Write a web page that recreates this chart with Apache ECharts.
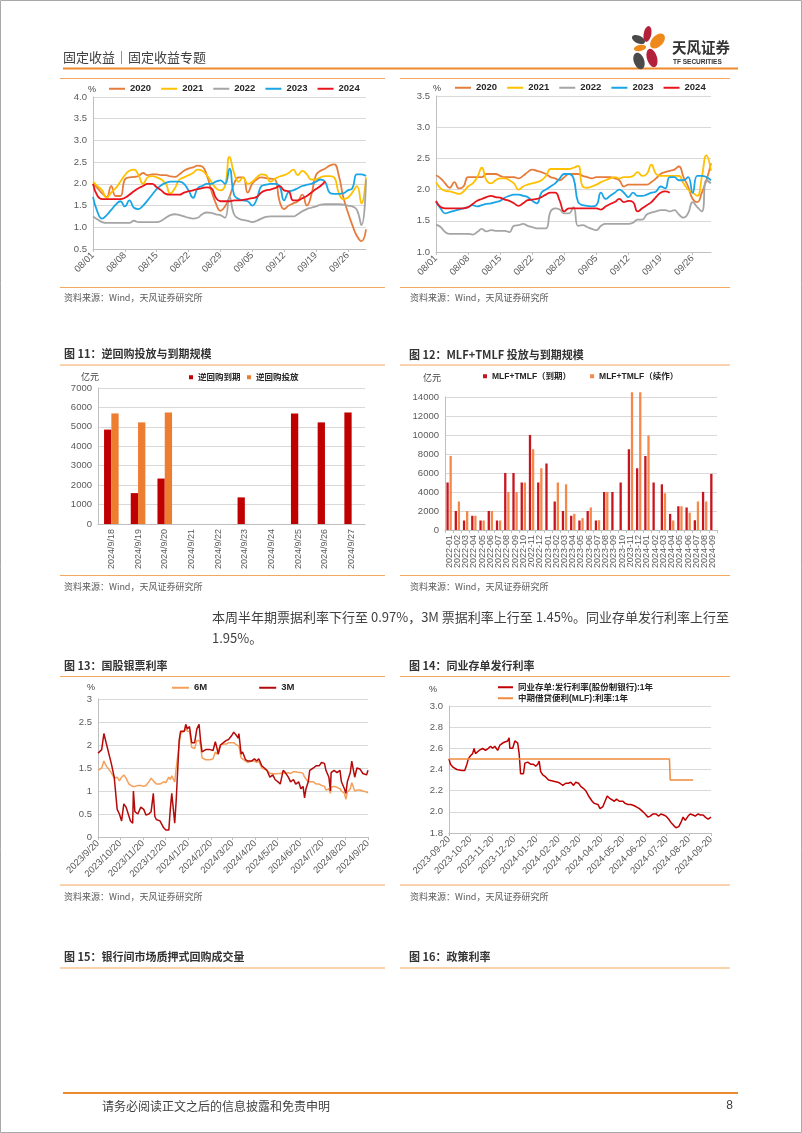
<!DOCTYPE html>
<html><head><meta charset="utf-8">
<script src="https://cdn.jsdelivr.net/npm/echarts@6/dist/echarts.min.js"></script>
<style>html,body{margin:0;padding:0;background:#fff}#c{width:802px;height:1133px}</style>
</head><body><div id="c"></div>
<script>
// ---------- DATA ----------
const days = ['08/01','08/02','08/03','08/04','08/05','08/06','08/07','08/08','08/09','08/10','08/11','08/12','08/13','08/14','08/15','08/16','08/17','08/18','08/19','08/20','08/21','08/22','08/23','08/24','08/25','08/26','08/27','08/28','08/29','08/30','08/31',
'09/01','09/02','09/03','09/04','09/05','09/06','09/07','09/08','09/09','09/10','09/11','09/12','09/13','09/14','09/15','09/16','09/17','09/18','09/19','09/20','09/21','09/22','09/23','09/24','09/25','09/26','09/27','09/28','09/29','09/30'];
const years = ['2020','2021','2022','2023','2024'];

const a2020 = [2.0,1.9,1.78,1.7,1.95,1.72,1.72,2.1,2.15,2.16, 2.18,2.25,2.2,2.22,2.22,2.2,2.2,2.17,2.16,2.22, 2.3,2.35,2.38,2.42,2.4,2.2,1.85,1.55,1.38,1.48, 1.7,2.0,2.15,2.15,1.8,2.0,2.1,2.15,2.13,2.12, 2.1,1.6,1.42,1.5,1.55,1.6,1.75,1.5,1.75,2.2, 2.3,2.35,2.42,2.45,2.2,1.7,1.35,1.05,0.8,0.68, 0.95];
const a2021 = [2.05,1.95,1.85,1.68,1.8,1.9,2.05,2.2,2.3,2.33, 2.2,2.0,2.15,2.18,2.15,2.1,2.0,1.78,1.9,2.1, 2.15,2.2,2.25,2.33,2.3,2.2,2.05,1.9,1.85,1.95, 2.62,2.25,2.05,2.15,2.0,2.05,2.15,2.22,2.2,2.05, 2.12,2.17,2.2,2.25,2.33,2.2,2.3,2.22,2.1,2.1, 2.15,2.18,2.18,2.15,1.8,1.65,1.68,1.8,1.95,1.55, 2.15];
const a2022 = [1.25,1.18,1.12,1.1,1.1,1.1,1.1,1.1,1.1,1.15, 1.12,1.12,1.12,1.12,1.12,1.15,1.22,1.28,1.3,1.28, 1.25,1.22,1.2,1.22,1.3,1.34,1.33,1.3,1.28,1.22, 1.7,1.3,1.2,1.17,1.15,1.12,1.15,1.2,1.24,1.25, 1.25,1.25,1.25,1.25,1.25,1.3,1.37,1.42,1.45,1.48, 1.52,1.53,1.53,1.53,1.53,1.52,1.5,1.48,1.4,1.05, 2.1];
const a2023 = [1.7,1.35,1.2,1.28,1.4,1.52,1.6,1.48,1.62,1.45, 1.42,1.5,1.62,1.75,1.88,1.97,2.02,2.05,2.05,2.05, 2.0,1.85,1.68,1.9,1.95,2.0,2.0,2.05,2.08,2.0, 2.35,1.75,1.65,1.62,1.6,1.5,1.65,1.95,1.98,2.0, 2.0,1.95,1.62,1.82,1.85,1.9,1.95,1.98,2.0,2.05, 2.1,2.05,1.8,1.77,1.77,1.78,1.85,1.9,2.22,2.22, 2.18];
const a2024 = [2.0,1.72,1.65,1.65,1.65,1.65,1.65,1.68,1.75,1.83, 1.9,1.95,2.0,2.0,1.92,1.85,1.77,1.75,1.75,1.75, 1.8,1.83,1.85,1.88,1.9,1.92,1.9,1.68,1.6,1.6, 1.6,1.62,1.62,1.63,1.65,1.67,1.7,1.8,1.85,1.87, 1.9,1.95,1.85,1.83,1.62,1.62,1.67,1.72,1.8,1.88, 1.95,2.05];

const b2020 = [2.23,2.18,2.1,2.03,2.12,2.02,2.05,2.2,2.2,2.2, 2.2,2.25,2.25,2.25,2.22,2.2,2.2,2.2,2.18,2.22, 2.28,2.32,2.3,2.28,2.25,2.2,2.18,2.15,2.2,2.25, 2.25,2.25,2.22,2.2,2.18,2.2,2.2,2.2,2.2,2.18, 2.15,2.05,2.08,2.08,2.08,2.08,2.08,2.12,2.18,2.25, 2.28,2.3,2.32,2.37,2.2,2.05,1.85,1.8,1.95,2.15, 2.42];
const b2021 = [2.12,2.02,1.98,1.97,1.95,1.93,1.97,2.05,2.1,2.2, 2.35,2.15,2.1,2.15,2.18,2.18,2.15,2.1,2.0,2.05, 2.08,2.1,2.12,2.15,2.22,2.33,2.33,2.33,2.33,2.33, 2.35,2.38,2.05,2.03,2.05,2.08,2.12,2.15,2.18,2.2, 2.18,2.2,2.2,2.22,2.28,2.22,2.25,2.4,2.25,2.22, 2.22,2.22,2.22,2.22,2.1,2.0,1.95,1.9,2.2,2.55, 2.3];
const b2022 = [1.44,1.4,1.32,1.29,1.29,1.29,1.29,1.29,1.28,1.32, 1.37,1.33,1.35,1.34,1.34,1.34,1.32,1.42,1.43,1.45, 1.42,1.4,1.38,1.38,1.38,1.65,1.7,1.68,1.62,1.62, 1.72,1.42,1.43,1.4,1.37,1.35,1.42,1.45,1.45,1.45, 1.45,1.45,1.45,1.47,1.52,1.52,1.6,1.63,1.65,1.67, 1.67,1.65,1.67,1.6,1.55,1.62,1.8,1.72,1.65,2.15, 2.1];
const b2023 = [1.8,1.7,1.62,1.64,1.66,1.68,1.7,1.72,1.75,1.73, 1.75,1.77,1.78,1.8,1.82,1.87,1.9,1.92,1.92,1.9, 1.88,1.82,1.78,1.95,2.0,2.05,2.1,2.18,2.25,2.25, 2.18,1.8,1.75,1.74,1.73,1.75,1.95,1.85,1.9,1.95, 2.0,1.95,1.88,1.95,1.9,1.9,1.92,1.95,1.97,2.05, 2.02,2.2,2.2,2.15,2.15,2.2,1.95,2.22,2.22,2.2, 2.15];
const b2024 = [1.82,1.72,1.7,1.7,1.7,1.7,1.7,1.72,1.77,1.82, 1.85,1.88,1.9,1.88,1.87,1.84,1.82,1.78,1.74,1.78, 1.83,1.84,1.85,1.88,1.92,1.95,1.95,1.82,1.65,1.7, 1.7,1.7,1.7,1.7,1.7,1.7,1.68,1.73,1.77,1.8, 1.85,1.8,1.82,1.8,1.65,1.7,1.75,1.8,1.88,1.95, 1.97,1.95];

const cats11 = ['2024/9/18','2024/9/19','2024/9/20','2024/9/21','2024/9/22','2024/9/23','2024/9/24','2024/9/25','2024/9/26','2024/9/27'];
const due11 = [4860,1590,2340,null,null,1370,null,5690,5230,5740];
const put11 = [5690,5230,5740,null,null,null,null,null,null,null];

const cats12 = ['2022-01','2022-02','2022-03','2022-04','2022-05','2022-06','2022-07','2022-08','2022-09','2022-10','2022-11','2022-12',
'2023-01','2023-02','2023-03','2023-04','2023-05','2023-06','2023-07','2023-08','2023-09','2023-10','2023-11','2023-12',
'2024-01','2024-02','2024-03','2024-04','2024-05','2024-06','2024-07','2024-08','2024-09'];
const due12 = [5000,2000,1000,1500,1000,2000,1000,6000,6000,5000,10000,5000, 7000,3000,2000,1500,1000,2000,1000,4000,4000,5000,8500,6500, 7790,5000,4810,1700,2500,2370,1030,4010,5910];
const roll12 = [7800,3000,2000,1500,1000,2000,1000,4000,4000,5000,8500,6500, null,5000,4810,1700,1250,2370,1030,4010,null,null,14500,14500, 9950,null,3870,1000,2500,1820,3000,3000,null];

const dates13 = ['2023-09-20','2023-09-25','2023-09-28',
'2023-10-01','2023-10-08','2023-10-12','2023-10-16','2023-10-19','2023-10-22','2023-10-25','2023-10-28',
'2023-11-01','2023-11-03','2023-11-06','2023-11-07','2023-11-09','2023-11-13','2023-11-17','2023-11-21','2023-11-24','2023-11-28',
'2023-12-01','2023-12-04','2023-12-06','2023-12-08','2023-12-13','2023-12-18','2023-12-21','2023-12-25','2023-12-27','2023-12-29',
'2024-01-02','2024-01-04','2024-01-08','2024-01-10','2024-01-15','2024-01-17','2024-01-19','2024-01-22','2024-01-25','2024-01-29',
'2024-02-01','2024-02-04','2024-02-06','2024-02-08','2024-02-13','2024-02-19','2024-02-23','2024-02-26','2024-02-28',
'2024-03-01','2024-03-04','2024-03-08','2024-03-12','2024-03-15','2024-03-19','2024-03-22','2024-03-26','2024-03-28','2024-03-29',
'2024-04-01','2024-04-03','2024-04-07','2024-04-10','2024-04-15','2024-04-19','2024-04-22','2024-04-25','2024-04-29',
'2024-05-06','2024-05-10','2024-05-14','2024-05-17','2024-05-21','2024-05-24','2024-05-28','2024-05-31',
'2024-06-04','2024-06-07','2024-06-11','2024-06-14','2024-06-18','2024-06-21','2024-06-24','2024-06-26','2024-06-28',
'2024-07-01','2024-07-03','2024-07-08','2024-07-12','2024-07-16','2024-07-19','2024-07-23','2024-07-25','2024-07-29','2024-07-31',
'2024-08-01','2024-08-05','2024-08-09','2024-08-13','2024-08-15','2024-08-19','2024-08-21','2024-08-23','2024-08-27','2024-08-29',
'2024-09-02','2024-09-05','2024-09-09','2024-09-11','2024-09-13','2024-09-18','2024-09-20'];
const m3 = [1.82,1.9,2.25,
2.05,1.6,1.3,0.6,0.5,0.35,0.72,0.65,
0.45,0.35,0.3,1.0,0.55,0.5,0.65,0.6,0.48,0.5,
0.55,0.95,0.45,0.38,0.35,0.2,0.15,0.15,0.6,0.95,
0.3,0.8,2.1,2.3,2.3,2.45,2.35,2.4,2.05,2.05,
2.35,2.45,2.1,1.85,1.9,1.9,1.88,2.07,1.95,
1.8,2.0,2.05,2.1,2.12,2.2,2.28,2.2,2.15,2.25,
1.8,1.85,1.68,1.65,1.65,1.7,1.65,1.7,1.55,
1.45,1.3,1.35,1.25,1.2,1.15,1.45,1.4,
1.3,1.2,1.25,1.15,1.2,1.05,1.1,0.85,1.05,
1.2,1.45,1.5,1.55,1.55,1.62,1.6,1.45,1.3,1.0,
1.4,1.45,1.4,1.45,1.2,1.05,0.95,1.2,1.4,1.65,
1.3,1.5,1.48,1.5,1.38,1.35,1.45];
const m6 = [1.45,1.5,1.65,
1.55,1.4,1.28,1.3,1.22,1.3,1.35,1.28,
1.15,1.12,1.1,1.1,1.1,1.12,1.12,1.1,1.12,1.2,
1.28,1.22,1.18,1.15,1.15,1.2,1.18,1.3,1.25,1.33,
1.2,1.5,2.0,2.25,2.3,2.35,2.3,2.3,1.95,1.92,
2.1,2.1,2.0,1.72,1.68,1.68,1.7,1.85,1.8,
1.78,2.0,2.02,2.02,2.05,2.05,2.05,2.0,1.98,1.98,
1.72,1.7,1.65,1.62,1.65,1.65,1.62,1.65,1.5,
1.45,1.38,1.38,1.37,1.38,1.38,1.4,1.38,
1.4,1.38,1.42,1.42,1.4,1.4,1.38,1.3,1.3,
1.2,1.18,1.2,1.15,1.15,1.12,1.1,1.02,1.05,0.95,
1.08,1.1,1.08,1.05,1.0,0.95,0.82,0.98,1.05,1.18,
1.0,1.02,1.02,1.0,1.0,0.98,0.96];
const tickDates = ['2023-09-20','2023-10-20','2023-11-20','2023-12-20','2024-01-20','2024-02-20','2024-03-20','2024-04-20','2024-05-20','2024-06-20','2024-07-20','2024-08-20','2024-09-20'];

const dates14 = ['2023-09-20','2023-09-22','2023-09-26',
'2023-10-01','2023-10-08','2023-10-12','2023-10-15','2023-10-17','2023-10-20','2023-10-23','2023-10-25','2023-10-27',
'2023-11-01','2023-11-06','2023-11-10','2023-11-14','2023-11-17','2023-11-20','2023-11-23','2023-11-27','2023-11-30',
'2023-12-04','2023-12-07','2023-12-11','2023-12-13','2023-12-14','2023-12-18','2023-12-21','2023-12-25','2023-12-27','2023-12-29',
'2024-01-02','2024-01-04','2024-01-08','2024-01-12','2024-01-16','2024-01-19','2024-01-22','2024-01-24','2024-01-26','2024-01-29',
'2024-02-02','2024-02-06','2024-02-19','2024-02-22','2024-02-26',
'2024-03-01','2024-03-05','2024-03-08','2024-03-12','2024-03-15','2024-03-19','2024-03-22','2024-03-26','2024-03-29',
'2024-04-02','2024-04-07','2024-04-10','2024-04-15','2024-04-18','2024-04-22','2024-04-25','2024-04-28',
'2024-05-01','2024-05-08','2024-05-11','2024-05-15','2024-05-20','2024-05-23','2024-05-27','2024-05-31',
'2024-06-04','2024-06-07','2024-06-12','2024-06-17','2024-06-20','2024-06-24','2024-06-27',
'2024-07-01','2024-07-05','2024-07-09','2024-07-12','2024-07-16','2024-07-19','2024-07-23','2024-07-26','2024-07-30',
'2024-08-02','2024-08-06','2024-08-09','2024-08-12','2024-08-15','2024-08-19','2024-08-22','2024-08-26','2024-08-29',
'2024-09-02','2024-09-05','2024-09-09','2024-09-12','2024-09-16','2024-09-20'];
const ncd = [2.5,2.45,2.42,
2.4,2.39,2.39,2.45,2.5,2.53,2.55,2.6,2.55,
2.58,2.6,2.58,2.6,2.62,2.6,2.62,2.58,2.63,
2.65,2.66,2.67,2.7,2.6,2.6,2.67,2.65,2.55,2.36,
2.36,2.46,2.47,2.45,2.45,2.43,2.45,2.48,2.38,2.35,
2.33,2.3,2.28,2.27,2.25,
2.27,2.27,2.28,2.25,2.28,2.27,2.24,2.22,2.2,
2.15,2.1,2.08,2.07,2.03,2.05,2.1,2.15,
2.13,2.1,2.12,2.1,2.1,2.08,2.07,2.07,
2.06,2.05,2.03,2.0,1.98,1.95,1.96,
1.98,1.98,1.96,1.98,1.97,1.96,1.93,1.9,1.87,
1.85,1.86,1.9,1.95,1.92,1.96,1.98,1.97,1.96,
1.98,1.97,1.97,1.95,1.93,1.95];
const mlfDates = ['2023-09-20','2024-07-24','2024-07-25','2024-08-26'];
const mlf = [2.5,2.5,2.3,2.3];

// ---------- HELPERS ----------
const FF = "'Liberation Sans','Noto Sans CJK SC',sans-serif";
const CJK = "'Noto Sans CJK SC','Liberation Sans',sans-serif";
const AX = '#595959', GRIDC = '#D9D9D9', LINEC = '#BFBFBF';
const ORANGE = '#EE8A2C', THIN = '#F3A85E';
const yc = ['#E67C3C','#FFC000','#A5A5A5','#1AA5E6','#E8141B'];

const DAY = 86400000;
const START = Date.parse('2023-09-20');
const dayNo = s => Math.round((Date.parse(s) - START) / DAY);   // day offset used by a value axis
function dateOf(v){ return new Date(START + Math.round(v) * DAY); }
function fmtSlash(v){const d=dateOf(v);return d.getUTCFullYear()+'/'+(d.getUTCMonth()+1)+'/'+d.getUTCDate();}
function fmtDash(v){const d=dateOf(v);const m=d.getUTCMonth()+1, dd=d.getUTCDate();return d.getUTCFullYear()+'-'+(m<10?'0':'')+m+'-'+(dd<10?'0':'')+dd;}
function zipD(a,b){return a.map((d,i)=>[dayNo(d),b[i]]);}
const tickNos = tickDates.map(dayNo);
const END = dayNo('2024-09-20');

function yAx(gi,min,max,interval,fmt){
  return {type:'value',gridIndex:gi,min,max,interval,
    axisLine:{show:true,lineStyle:{color:LINEC}},axisTick:{show:false},
    splitLine:{show:true,lineStyle:{color:GRIDC,width:1}},
    axisLabel:{fontSize:9.5,color:AX,margin:6,formatter:fmt}};
}
function lineS(name,data,xi,color,smooth,w){
  return {type:'line',name,data,xAxisIndex:xi,yAxisIndex:xi,showSymbol:false,symbol:'none',smooth:smooth,
    lineStyle:{color,width:w||1.8},itemStyle:{color}};
}
const legText = {fontSize:9.5,fontWeight:'bold',color:'#262626',fontFamily:FF};

function T(x,y,text,size,o){o=o||{};return {type:'text',x,y,silent:true,style:{text,fontSize:size,fontFamily:o.ff||CJK,fontWeight:o.fw||'normal',fill:o.c||'#333',
  textAlign:o.a||'left',align:o.a||'left',textVerticalAlign:'middle',verticalAlign:'middle'}};}
function H(x1,x2,y,c,w){return {type:'line',silent:true,shape:{x1,y1:y,x2,y2:y},style:{stroke:c,lineWidth:w}};}
function P(cx,cy,rx,ry,rot,c){return {type:'ellipse',silent:true,x:cx,y:cy,rotation:rot,shape:{cx:0,cy:0,rx,ry},style:{fill:c}};}

const SRC = '资料来源：Wind，天风证券研究所';
const graphics = [
  {type:'rect',silent:true,shape:{x:0.5,y:0.5,width:801,height:1132},style:{fill:null,stroke:'#A8A8A8',lineWidth:1}},
  T(63,57,'固定收益｜固定收益专题',13,{c:'#404040'}),
  H(63,738,68.5,ORANGE,2),
  // logo petals
  P(647.5,34,3.8,8,-0.2,'#B3203C'),
  P(657.5,41,5.6,9,-0.75,'#EE8A1B'),
  P(638.5,39.5,7,3.8,-0.45,'#4A4A4A'),
  P(640,48,6.2,3,0.2,'#EE8A1B'),
  P(639,61,5.2,8.5,0.35,'#4A4A4A'),
  P(652,58,5,9.5,0.3,'#B3203C'),
  T(672,47,'天风证券',14.5,{fw:'bold',c:'#333'}),
  T(673,62,'TF SECURITIES',6.5,{fw:'bold',c:'#333',ff:FF}),
  H(60,385,78.5,THIN,1.2), H(400,730,78.5,THIN,1.2),
  T(88,90,'%',9,{ff:FF,c:'#404040'}), T(433,89,'%',9,{ff:FF,c:'#404040'}),
  H(60,385,287.5,THIN,1.2), H(400,730,287.5,THIN,1.2),
  T(64,298,SRC,9,{c:'#595959'}), T(410,298,SRC,9,{c:'#595959'}),
  T(64,354,'图 11：逆回购投放与到期规模',11,{fw:'bold',c:'#333'}),
  T(409,355,'图 12：MLF+TMLF 投放与到期规模',11,{fw:'bold',c:'#333'}),
  H(60,385,365,THIN,1.2), H(400,730,365,THIN,1.2),
  T(81,377,'亿元',9,{c:'#404040'}), T(423,378,'亿元',9,{c:'#404040'}),
  H(60,385,575.5,THIN,1.2), H(400,730,575.5,THIN,1.2),
  T(64,587,SRC,9,{c:'#595959'}), T(410,587,SRC,9,{c:'#595959'}),
  T(212,617,'本周半年期票据利率下行至 0.97%，3M 票据利率上行至 1.45%。同业存单发行利率上行至',13,{c:'#404040'}),
  T(212,638,'1.95%。',13,{c:'#404040'}),
  T(64,666,'图 13：国股银票利率',11,{fw:'bold',c:'#333'}),
  T(409,666,'图 14：同业存单发行利率',11,{fw:'bold',c:'#333'}),
  H(60,385,676.5,THIN,1.2), H(400,730,676.5,THIN,1.2),
  T(87,688,'%',9,{ff:FF,c:'#404040'}), T(429,690,'%',9,{ff:FF,c:'#404040'}),
  H(60,385,885,THIN,1.2), H(400,730,885,THIN,1.2),
  T(64,897,SRC,9,{c:'#595959'}), T(410,897,SRC,9,{c:'#595959'}),
  T(64,957,'图 15：银行间市场质押式回购成交量',11,{fw:'bold',c:'#333'}),
  T(409,957,'图 16：政策利率',11,{fw:'bold',c:'#333'}),
  H(60,385,968,THIN,1.2), H(400,730,968,THIN,1.2),
  H(63,738,1093,ORANGE,2),
  T(102,1106,'请务必阅读正文之后的信息披露和免责申明',12,{c:'#404040'}),
  T(733,1106,'8',12,{ff:FF,c:'#404040',a:'right'})
];

// ---------- OPTION ----------
const topX = gi => ({type:'category',gridIndex:gi,data:days,boundaryGap:false,
  axisLine:{lineStyle:{color:LINEC}},axisTick:{interval:6,length:3,lineStyle:{color:LINEC}},
  axisLabel:{interval:6,rotate:45,fontSize:9.5,color:AX,margin:5}});
const dateX = (gi,fmt) => ({type:'value',gridIndex:gi,min:0,max:END,splitLine:{show:false},
  axisLine:{show:true,lineStyle:{color:LINEC}},
  axisTick:{show:true,customValues:tickNos,length:3,lineStyle:{color:LINEC}},
  axisLabel:{customValues:tickNos,formatter:fmt,rotate:45,fontSize:9.5,color:AX,margin:5,showMinLabel:true,showMaxLabel:true}});
const plain = v => String(v);

const series = [];
[a2020,a2021,a2022,a2023,a2024].forEach((d,i)=>series.push(lineS(years[i],d,0,yc[i],true)));
[b2020,b2021,b2022,b2023,b2024].forEach((d,i)=>series.push(lineS(years[i],d,1,yc[i],true)));
series.push({type:'bar',name:'逆回购到期',data:due11,xAxisIndex:2,yAxisIndex:2,barWidth:7.3,barGap:'0%',itemStyle:{color:'#C00000'}});
series.push({type:'bar',name:'逆回购投放',data:put11,xAxisIndex:2,yAxisIndex:2,barWidth:7.3,barGap:'0%',itemStyle:{color:'#ED7D31'}});
series.push({type:'bar',name:'MLF+TMLF（到期）',data:due12,xAxisIndex:3,yAxisIndex:3,barWidth:2.3,barGap:'35%',clip:false,itemStyle:{color:'#C8141E'}});
series.push({type:'bar',name:'MLF+TMLF（续作）',data:roll12,xAxisIndex:3,yAxisIndex:3,barWidth:2.3,barGap:'35%',clip:false,itemStyle:{color:'#F4894B'}});
series.push(lineS('6M',zipD(dates13,m6),4,'#F5A05A',false,1.5));
series.push(lineS('3M',zipD(dates13,m3),4,'#B40A0A',false,1.5));
series.push(lineS('同业存单:发行利率(股份制银行):1年',zipD(dates14,ncd),5,'#C00000',false,1.5));
series.push(lineS('中期借贷便利(MLF):利率:1年',zipD(mlfDates,mlf),5,'#F08A3C',false,1.5));

const option = {
  animation:false,
  backgroundColor:'#fff',
  textStyle:{fontFamily:FF},
  grid:[
    {left:93,top:97,width:273,height:152},
    {left:436,top:96,width:275,height:156},
    {left:98,top:388,width:267,height:136},
    {left:445,top:397,width:272,height:133},
    {left:98,top:699,width:270,height:138},
    {left:449,top:706,width:262,height:127}
  ],
  legend:[
    {data:years,left:109,top:84,icon:'rect',itemWidth:16,itemHeight:2,itemGap:10,textStyle:legText,padding:0},
    {data:years,left:455,top:83,icon:'rect',itemWidth:16,itemHeight:2,itemGap:10,textStyle:legText,padding:0},
    {data:['逆回购到期','逆回购投放'],left:189,top:373,icon:'rect',itemWidth:4,itemHeight:4,itemGap:6.5,textStyle:Object.assign({},legText,{fontSize:8.5}),padding:0},
    {data:['MLF+TMLF（到期）','MLF+TMLF（续作）'],left:483,top:372,icon:'rect',itemWidth:4,itemHeight:4,itemGap:19,textStyle:Object.assign({},legText,{fontSize:8.5}),padding:0},
    {data:['6M','3M'],left:172,top:683,icon:'rect',itemWidth:17,itemHeight:2,itemGap:52,textStyle:legText,padding:0},
    {data:['同业存单:发行利率(股份制银行):1年'],left:498,top:683,icon:'rect',itemWidth:15,itemHeight:2,textStyle:Object.assign({},legText,{fontSize:8.5}),padding:0},
    {data:['中期借贷便利(MLF):利率:1年'],left:498,top:694,icon:'rect',itemWidth:15,itemHeight:2,textStyle:Object.assign({},legText,{fontSize:8.5}),padding:0}
  ],
  xAxis:[
    topX(0), topX(1),
    {type:'category',gridIndex:2,data:cats11,axisLine:{lineStyle:{color:LINEC}},axisTick:{show:false},
      axisLabel:{interval:0,rotate:90,fontSize:9,color:AX,margin:5}},
    {type:'category',gridIndex:3,data:cats12,axisLine:{lineStyle:{color:LINEC}},axisTick:{show:true,length:3,lineStyle:{color:LINEC}},
      axisLabel:{interval:0,rotate:90,fontSize:9,color:AX,margin:5}},
    dateX(4,fmtSlash),
    dateX(5,fmtDash)
  ],
  yAxis:[
    yAx(0,0.5,4,0.5,v=>v.toFixed(1)),
    yAx(1,1,3.5,0.5,v=>v.toFixed(1)),
    yAx(2,0,7000,1000,plain),
    yAx(3,0,14000,2000,plain),
    yAx(4,0,3,0.5,plain),
    yAx(5,1.8,3.0,0.2,v=>v.toFixed(1))
  ],
  series,
  graphic:{elements:graphics}
};
const chart = echarts.init(document.getElementById('c'),null,{renderer:'canvas'});
chart.setOption(option);
</script></body></html>
